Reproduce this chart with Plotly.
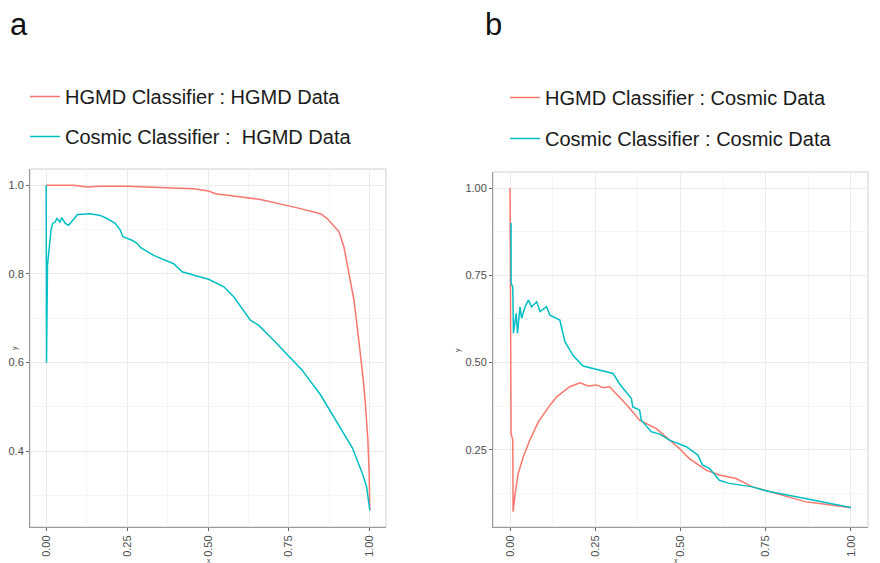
import plotly.graph_objs as go

# Panel a : HGMD data
hgmd_a_x = [0, 0.085, 0.126, 0.167, 0.25, 0.332, 0.394, 0.456, 0.502, 0.523, 0.621, 0.662,
            0.776, 0.827, 0.848, 0.868, 0.905, 0.92, 0.93, 0.941, 0.951, 0.961, 0.972,
            0.98, 0.987, 0.994, 0.998, 1.0]
hgmd_a_y = [1.0, 1.0, 0.996, 0.998, 0.998, 0.996, 0.994, 0.992, 0.987, 0.981, 0.972, 0.968,
            0.949, 0.941, 0.936, 0.925, 0.895, 0.861, 0.823, 0.786, 0.741, 0.681, 0.612,
            0.560, 0.50, 0.425, 0.35, 0.267]

cosmic_a_x = [0, 0.001, 0.004, 0.006, 0.010, 0.015, 0.020, 0.028, 0.033, 0.043, 0.048, 0.059,
              0.069, 0.079, 0.097, 0.136, 0.167, 0.188, 0.213, 0.229, 0.237, 0.265, 0.281,
              0.291, 0.332, 0.394, 0.420, 0.476, 0.502, 0.549, 0.580, 0.631, 0.657, 0.693,
              0.745, 0.791, 0.848, 0.889, 0.946, 0.977, 0.990, 1.0]
cosmic_a_y = [1.0, 0.6, 0.82, 0.838, 0.868, 0.899, 0.914, 0.917, 0.925, 0.917, 0.927, 0.914,
              0.910, 0.919, 0.934, 0.936, 0.932, 0.925, 0.914, 0.899, 0.884, 0.876, 0.869,
              0.860, 0.842, 0.823, 0.805, 0.793, 0.788, 0.771, 0.748, 0.696, 0.684, 0.658,
              0.617, 0.583, 0.527, 0.478, 0.408, 0.350, 0.320, 0.267]

# Panel b : Cosmic data
hgmd_b_x = [0, 0.003, 0.008, 0.009, 0.015, 0.024, 0.039, 0.058, 0.083, 0.117, 0.137, 0.175,
            0.205, 0.229, 0.253, 0.273, 0.292, 0.322, 0.346, 0.380, 0.429, 0.468, 0.497,
            0.526, 0.575, 0.614, 0.663, 0.711, 0.75, 0.809, 0.868, 0.926, 1.0]
hgmd_b_y = [1.0, 0.297, 0.278, 0.073, 0.125, 0.183, 0.23, 0.278, 0.330, 0.378, 0.402, 0.431,
            0.442, 0.433, 0.436, 0.428, 0.431, 0.400, 0.375, 0.335, 0.311, 0.278, 0.254,
            0.225, 0.192, 0.178, 0.168, 0.144, 0.133, 0.116, 0.101, 0.094, 0.084]

cosmic_b_x = [0.003, 0.003, 0.008, 0.010, 0.018, 0.022, 0.029, 0.034, 0.044, 0.054, 0.063,
              0.078, 0.088, 0.107, 0.117, 0.146, 0.161, 0.185, 0.214, 0.253, 0.283, 0.302,
              0.322, 0.336, 0.356, 0.360, 0.380, 0.385, 0.414, 0.439, 0.468, 0.517, 0.551,
              0.565, 0.585, 0.614, 0.643, 0.711, 0.75, 0.828, 0.906, 1.0]
cosmic_b_y = [0.90, 0.727, 0.717, 0.584, 0.641, 0.584, 0.66, 0.627, 0.66, 0.679, 0.66,
              0.674, 0.646, 0.66, 0.636, 0.622, 0.56, 0.52, 0.49, 0.481, 0.474, 0.469,
              0.438, 0.421, 0.397, 0.373, 0.364, 0.335, 0.302, 0.295, 0.278, 0.259, 0.235,
              0.206, 0.197, 0.163, 0.154, 0.144, 0.133, 0.118, 0.104, 0.085]

x_ticks = [0, 0.25, 0.5, 0.75, 1.0]
x_ticklabels = ['0.00', '0.25', '0.50', '0.75', '1.00']
ya_ticks = [0.4, 0.6, 0.8, 1.0]
ya_ticklabels = ['0.4', '0.6', '0.8', '1.0']
yb_ticks = [0.25, 0.5, 0.75, 1.0]
yb_ticklabels = ['0.25', '0.50', '0.75', '1.00']

RED = '#F8766D'
TEAL = '#00BFC4'
# la página deja 8px de margen en el body: la figura se reduce y se compensa
OFF = 8
W, H = 880 - OFF, 563 - OFF


def px(x):
    return (x - OFF) / W


def py(y):
    return 1 - (y - OFF) / H


fig = go.Figure()

# Panel a
fig.add_trace(go.Scatter(x=hgmd_a_x, y=hgmd_a_y, mode='lines', name='HGMD Classifier : HGMD Data',
                         line=dict(color=RED, width=1.5), xaxis='x', yaxis='y',
                         legend='legend', legendgroup='a1'))
fig.add_trace(go.Scatter(x=cosmic_a_x, y=cosmic_a_y, mode='lines', name='Cosmic Classifier :  HGMD Data',
                         line=dict(color=TEAL, width=1.5), xaxis='x', yaxis='y',
                         legend='legend', legendgroup='a2'))
# Panel b
fig.add_trace(go.Scatter(x=hgmd_b_x, y=hgmd_b_y, mode='lines', name='HGMD Classifier : Cosmic Data',
                         line=dict(color=RED, width=1.5), xaxis='x2', yaxis='y2',
                         legend='legend2', legendgroup='b1'))
fig.add_trace(go.Scatter(x=cosmic_b_x, y=cosmic_b_y, mode='lines', name='Cosmic Classifier : Cosmic Data',
                         line=dict(color=TEAL, width=1.5), xaxis='x2', yaxis='y2',
                         legend='legend2', legendgroup='b2'))

tick_font = dict(family='Liberation Sans, Arial, sans-serif', size=11, color='#4d4d4d')

common_x = dict(
    tickvals=x_ticks, ticktext=x_ticklabels, tickangle=-90, tickfont=tick_font,
    showgrid=True, gridcolor='#ebebeb', gridwidth=1,
    minor=dict(dtick=0.125, tick0=0.125, showgrid=True, gridcolor='#f5f5f5', gridwidth=1),
    ticks='outside', ticklen=3, tickcolor='#666666',
    showline=True, linecolor='#9a9a9a', linewidth=1, zeroline=False,
    range=[-0.05, 1.05], fixedrange=True,
)

fig.update_layout(
    xaxis=dict(domain=[px(30), px(386)], anchor='y', **common_x),
    yaxis=dict(domain=[py(527), py(169)], anchor='x', range=[0.2293, 1.0367],
               tickvals=ya_ticks, ticktext=ya_ticklabels, tickfont=tick_font,
               showgrid=True, gridcolor='#ebebeb',
               minor=dict(tickvals=[0.3, 0.5, 0.7, 0.9], showgrid=True, gridcolor='#f5f5f5'),
               ticks='outside', ticklen=3, tickcolor='#666666',
               showline=True, linecolor='#9a9a9a', zeroline=False),
    xaxis2=dict(domain=[px(493), px(868)], anchor='y2', **common_x),
    yaxis2=dict(domain=[py(527), py(172)], anchor='x2', range=[0.029, 1.046],
                tickvals=yb_ticks, ticktext=yb_ticklabels, tickfont=tick_font,
                showgrid=True, gridcolor='#ebebeb',
                minor=dict(tickvals=[0.125, 0.375, 0.625, 0.875], showgrid=True, gridcolor='#f5f5f5'),
                ticks='outside', ticklen=3, tickcolor='#666666',
                showline=True, linecolor='#9a9a9a', zeroline=False),
)

legend_font = dict(family='Liberation Sans, Arial, sans-serif', size=20, color='#1a1a1a')
fig.update_layout(
    legend=dict(x=px(25), y=py(77), xanchor='left', yanchor='top', font=legend_font,
                bgcolor='rgba(0,0,0,0)', tracegroupgap=11, itemwidth=30),
    legend2=dict(x=px(505), y=py(78), xanchor='left', yanchor='top', font=legend_font,
                 bgcolor='rgba(0,0,0,0)', tracegroupgap=12, itemwidth=30),
)

# panel borders
for xr, yr in [('x domain', 'y domain'), ('x2 domain', 'y2 domain')]:
    fig.add_shape(type='rect', xref=xr, yref=yr, x0=0, x1=1, y0=0, y1=1,
                  line=dict(color='#d0d0d0', width=1), layer='below')

# letras de panel y títulos de ejes
label_font = dict(family='Liberation Sans, Arial, sans-serif', size=31, color='#111111')
small_font = dict(family='Liberation Sans, Arial, sans-serif', size=7, color='#4d4d4d')
fig.add_annotation(x=px(8), y=py(5), xref='paper', yref='paper', text='a', showarrow=False,
                   xanchor='left', yanchor='top', font=label_font)
fig.add_annotation(x=px(483), y=py(5), xref='paper', yref='paper', text='b', showarrow=False,
                   xanchor='left', yanchor='top', font=label_font)
fig.add_annotation(x=px(205), y=py(563), xref='paper', yref='paper', text='x', showarrow=False,
                   yanchor='bottom', yshift=-3, font=small_font)
fig.add_annotation(x=px(680), y=py(563), xref='paper', yref='paper', text='x', showarrow=False,
                   yanchor='bottom', yshift=-3, font=small_font)
fig.add_annotation(x=px(9), y=py(348), xref='paper', yref='paper', text='y', showarrow=False,
                   xanchor='left', textangle=-90, font=small_font)
fig.add_annotation(x=px(458), y=py(350), xref='paper', yref='paper', text='y', showarrow=False,
                   textangle=-90, font=small_font)

fig.update_layout(
    width=W, height=H,
    margin=dict(l=0, r=0, t=0, b=0),
    paper_bgcolor='white', plot_bgcolor='white',
    showlegend=True,
)

fig.write_html("out.html")
